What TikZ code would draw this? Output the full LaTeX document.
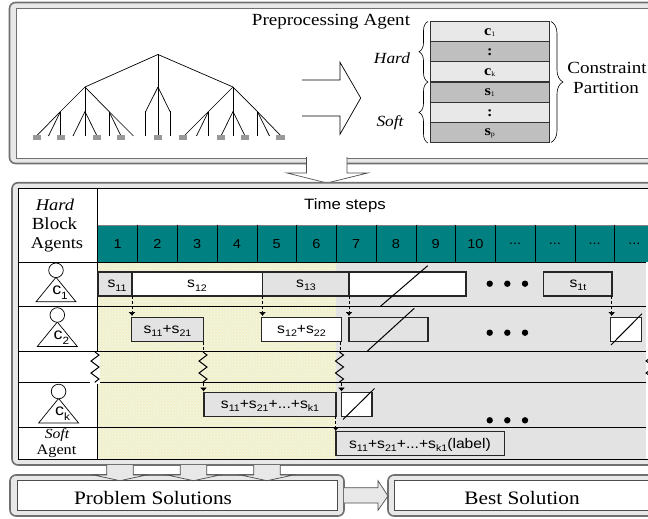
\documentclass[tikz,border=0pt]{standalone}
\usepackage{fontspec}
\setmainfont{Liberation Serif}[FakeStretch=1.12]
\setsansfont{Liberation Sans}[FakeStretch=1.12]
\usetikzlibrary{calc}
\usetikzlibrary{arrows.meta}
\usetikzlibrary{patterns}
\usetikzlibrary{decorations.pathreplacing}
\usetikzlibrary{decorations.pathmorphing}
\definecolor{frameGray}{HTML}{E8E8E8}
\definecolor{frameLine}{HTML}{707070}
\definecolor{bandGray}{HTML}{E3E3E3}
\definecolor{darkGray}{HTML}{BFBFBF}
\definecolor{leafGray}{HTML}{999999}
\definecolor{stepTeal}{HTML}{008080}
\definecolor{hatchBase}{HTML}{EFEFD6}
\definecolor{hatchDot}{HTML}{FFFFC4}
\tikzset{
    frameOuter/.style = {draw=frameLine, line width=1.6pt, fill=frameGray, rounded corners=6pt},
    frameInner/.style = {draw=black!70, line width=0.9pt, fill=white},
    slotBox/.style = {draw=black!85, line width=1.1pt, fill=bandGray},
    slotFree/.style = {draw=black!85, line width=1.1pt, fill=white},
    stackCell/.style = {draw=black!80, line width=0.8pt},
    slotText/.style = {font=\sffamily\fontsize{14}{14}\selectfont, inner sep=0pt},
    rowLine/.style = {draw=black, line width=0.8pt},
    slash/.style = {draw=black, line width=1pt},
    waitArrow/.style = {draw=black, densely dashed, line width=0.7pt, -{Latex[length=4pt,width=7pt]}},
    zigzag/.style = {draw=black, line width=1pt, decorate, decoration={zigzag, segment length=12pt, amplitude=4pt}},
    flowArrow/.style = {draw=black!70, line width=0.7pt, fill=frameGray},
    treeLine/.style = {draw=black, line width=0.7pt},
}
\newcommand{\moreSteps}{...}
\newcommand{\slotSub}[1]{\raisebox{-3.5pt}{\fontsize{9.5}{9.5}\selectfont #1}}
\newcommand{\iconSub}[1]{\raisebox{-5pt}{\fontsize{10.5}{10.5}\selectfont #1}}
\newcommand{\cellSub}[1]{\raisebox{-1pt}{\mdseries\fontsize{7}{7}\selectfont #1}}
\newcommand{\agentIcon}[3]{
    \coordinate (#3_c) at #1;
    \draw[black, line width=0.7pt, fill=white] ($(#3_c) + (0, 7)$) -- ($(#3_c) + (-20, 31.5)$) -- ($(#3_c) + (20, 31.5)$) -- cycle;
    \draw[black, line width=0.7pt, fill=white] (#3_c) circle (7.3);
    \node[slotText, font=\sffamily\fontsize{16}{16}\selectfont] (#3_t) at ($(#3_c) + (4, 22.5)$) {c\iconSub{#2}};
}
\newcommand{\threeDots}[1]{
    \foreach \dotX in {489.7, 507.3, 525} {
        \fill[black] (\dotX, #1) circle (3.2);
    }
}
\newcommand{\twig}[2]{
    \coordinate (tw_t) at (#1, 111.5);
    \foreach \leafX in {#2} {
        \coordinate (tw_l) at (\leafX, 136);
        \draw[treeLine] (tw_t) -- (tw_l);
    }
}
\newcommand{\branchTree}[2]{
    \coordinate (br_t) at (#1, 87);
    \draw[treeLine] (top) -- (br_t);
    \foreach \twigX in {#2} {
        \coordinate (br_e) at (\twigX, 111.5);
        \draw[treeLine] (br_t) -- (br_e);
    }
}
\begin{document}
\begin{tikzpicture}[x=1pt, y=-1pt]
    \clip (0, 0) rectangle (648, 519);
    \fill[white] (0, 0) rectangle (648, 519);

    \draw[frameOuter] (9.5, 2.5) rectangle (680, 163.5);
    \draw[frameInner, draw=frameLine] (16, 8) rectangle (680, 158);

    \coordinate (top) at (158, 54.5);
    \branchTree{85}{60.5, 85, 109}
    \branchTree{158}{145.7, 158, 170}
    \branchTree{233}{208.5, 233, 257.3}
    \twig{60.5}{36.5, 48.5, 60.5}
    \twig{85}{73, 85, 97}
    \twig{109}{109, 121, 133.5}
    \twig{208.5}{184, 196.5, 208.5}
    \twig{233}{221, 233, 245}
    \twig{257.3}{257.3, 269.5, 281}
    \draw[treeLine] (145.7, 111) -- (145.7, 136);
    \draw[treeLine] (158, 111) -- (158, 136);
    \draw[treeLine] (170, 111) -- (170, 136);
    \foreach \leafX in {36.7, 61, 97, 121, 157.7, 183, 220.7, 245, 280.3} {
        \fill[leafGray] (\leafX - 4.2, 135) rectangle (\leafX + 4.2, 140);
    }

    \draw[black, line width=0.7pt] (302, 80) -- (340, 80) -- (340, 62.3) -- (360.7, 98) -- (340, 134.3) -- (340, 116) -- (302, 116);

    \node[font=\fontsize{17}{17}\selectfont, inner sep=0pt] (prepTitle) at (331, 22) {Preprocessing Agent};
    \foreach \cellY/\cellFill/\cellText [count=\cellI] in {21.5/frameGray/c\cellSub{1}, 41.7/darkGray/:, 61.7/frameGray/c\cellSub{k}, 82/darkGray/s\cellSub{1}, 102/frameGray/:, 122.3/darkGray/s\cellSub{p}} {
        \draw[stackCell, fill=\cellFill] (430.3, \cellY) rectangle ++(118.7, 20.1);
        \node[font=\bfseries\fontsize{14.5}{14.5}\selectfont, inner sep=0pt] (cell\cellI) at (489.7, \cellY + 11) {\cellText};
    }
    \coordinate (hardTop) at (428, 21.5);
    \coordinate (hardBot) at (428, 82);
    \coordinate (softBot) at (428, 143);
    \coordinate (allTop) at (551, 21.5);
    \coordinate (allBot) at (551, 142.5);
    \draw[black, line width=0.6pt, decorate, decoration={brace, amplitude=9pt, mirror}] (hardTop) -- (hardBot);
    \draw[black, line width=0.6pt, decorate, decoration={brace, amplitude=9pt, mirror}] (hardBot) -- (softBot);
    \draw[black, line width=0.6pt, decorate, decoration={brace, amplitude=12pt}] (allTop) -- (allBot);
    \node[font=\itshape\fontsize{15.5}{15.5}\selectfont, inner sep=0pt] (hardLabel) at (392, 58) {Hard};
    \node[font=\itshape\fontsize{15.5}{15.5}\selectfont, inner sep=0pt] (softLabel) at (390, 123) {Soft};
    \node[font=\fontsize{17}{17}\selectfont, inner sep=0pt] (partA) at (607, 68) {Constraint};
    \node[font=\fontsize{17}{17}\selectfont, inner sep=0pt] (partB) at (606, 88) {Partition};

    \draw[flowArrow, fill=white] (306.5, 157) -- (306.5, 173) -- (287, 173) -- (327, 183) -- (367.7, 173) -- (347, 173) -- (347, 157);

    \draw[frameOuter] (12, 182.7) rectangle (680, 465);
    \draw[frameInner, draw=black] (18, 188) rectangle (680, 459);
    \fill[bandGray] (98, 262.3) rectangle (646, 458.5);
    \fill[hatchBase] (98, 262.3) rectangle (336, 458.5);
    \fill[pattern=crosshatch dots, pattern color=hatchDot] (98, 262.3) rectangle (336, 458.5);
    \fill[stepTeal] (98, 225) rectangle (648, 262.3);
    \draw[black!50, line width=0.9pt] (98, 225) -- (648, 225);
    \foreach \stepN [count=\stepI from 0] in {1, 2, 3, 4, 5, 6, 7, 8, 9, 10, \moreSteps, \moreSteps, \moreSteps, \moreSteps} {
        \node[font=\sffamily\fontsize{13}{13}\selectfont, inner sep=0pt] (step\stepI) at (117.7 + 39.74 * \stepI, 243.8) {\stepN};
        \ifnum\stepI>0
            \draw[black, line width=0.7pt] (98 + 39.74 * \stepI, 225) -- (98 + 39.74 * \stepI, 262.3);
        \fi
    }
    \node[font=\sffamily\fontsize{15}{15}\selectfont, inner sep=0pt] (stepTitle) at (345, 206) {Time steps};

    \fill[white] (18.5, 352) rectangle (97, 382);
    \foreach \rowY in {262.3, 306.7, 351.7, 382.7, 427} {
        \draw[rowLine] (18, \rowY) -- (646, \rowY);
    }
    \draw[black, line width=0.9pt] (97.7, 188) -- (97.7, 459);

    \node[font=\itshape\fontsize{16.5}{16.5}\selectfont, inner sep=0pt] (hardHead) at (55, 204.5) {Hard};
    \node[font=\fontsize{17}{17}\selectfont, inner sep=0pt] (blockHead) at (54.5, 224) {Block};
    \node[font=\fontsize{16.5}{16.5}\selectfont, inner sep=0pt] (agentsHead) at (57, 244.5) {Agents};
    \node[font=\itshape\fontsize{14}{14}\selectfont, inner sep=0pt] (softHead) at (57, 435) {Soft};
    \node[font=\fontsize{14.5}{14.5}\selectfont, inner sep=0pt] (agentHead) at (56.5, 451.5) {Agent};
    \agentIcon{(56, 270.3)}{1}{agentA}
    \agentIcon{(57.3, 315)}{2}{agentB}
    \agentIcon{(58.6, 391.5)}{k}{agentK}

    \coordinate (zigLa) at (95, 352);
    \coordinate (zigLb) at (95, 382.7);
    \coordinate (zigMa) at (203, 352);
    \coordinate (zigMb) at (203, 382.7);
    \coordinate (zigNa) at (339.5, 352);
    \coordinate (zigNb) at (339.5, 382.7);
    \coordinate (zigRa) at (650, 352);
    \coordinate (zigRb) at (650, 382.7);
    \fill[white] (90, 352.3) rectangle (100, 384);
    \draw[zigzag] (zigLa) -- (zigLb);
    \draw[zigzag] (zigMa) -- (zigMb);
    \draw[zigzag] (zigNa) -- (zigNb);
    \draw[zigzag] (zigRa) -- (zigRb);

    \draw[slotBox] (98, 272) rectangle (132, 296);
    \draw[slotFree] (132, 272) rectangle (262.5, 296);
    \draw[slotBox] (262.5, 272) rectangle (349, 296);
    \draw[slotFree] (349, 272) rectangle (466, 296);
    \draw[slotBox] (543.3, 272) rectangle (612, 296);
    \draw[slotBox] (131.5, 317.3) rectangle (203.5, 341.5);
    \draw[slotFree] (261.5, 317.3) rectangle (341.7, 341.5);
    \draw[slotBox] (349, 317.3) rectangle (428, 341.5);
    \draw[slotFree] (610.7, 317.3) rectangle (641.7, 341.5);
    \draw[slotBox] (204, 392.3) rectangle (336, 416.3);
    \draw[slotFree] (341.7, 392.3) rectangle (372, 416.3);
    \draw[slotBox] (336, 431.7) rectangle (504.7, 455.7);

    \node[slotText] (s11) at (117, 285.5) {s\slotSub{11}};
    \node[slotText] (s12) at (197, 285.5) {s\slotSub{12}};
    \node[slotText] (s13) at (306, 285.5) {s\slotSub{13}};
    \node[slotText] (s1t) at (578, 285.5) {s\slotSub{1t}};
    \node[slotText] (s21) at (167.5, 331) {s\slotSub{11}+s\slotSub{21}};
    \node[slotText] (s22) at (301.5, 331) {s\slotSub{12}+s\slotSub{22}};
    \node[slotText] (sk1) at (270, 406) {s\slotSub{11}+s\slotSub{21}+...+s\slotSub{k1}};
    \node[slotText] (slab) at (420, 445) {s\slotSub{11}+s\slotSub{21}+...+s\slotSub{k1}(label)};

    \draw[slash] (380, 306.7) -- (427.7, 265.7);
    \draw[slash] (366.7, 351.7) -- (414.3, 308.3);
    \draw[slash] (611, 345) -- (642, 313.7);
    \draw[slash] (343, 419.5) -- (374.5, 388.5);

    \threeDots{283.7}
    \threeDots{332.7}
    \threeDots{420.3}

    \draw[waitArrow] (132, 296) -- (132, 316);
    \draw[waitArrow] (262.5, 296) -- (262.5, 316);
    \draw[waitArrow] (349, 296) -- (349, 316);
    \draw[waitArrow] (611.7, 296) -- (611.7, 316);
    \draw[black, densely dashed, line width=0.7pt] (203.5, 341.5) -- (203.5, 352);
    \draw[black, densely dashed, line width=0.7pt] (340, 341.5) -- (340, 352);
    \draw[waitArrow] (203.5, 382.7) -- (203.5, 391.5);
    \draw[waitArrow] (341.5, 382.7) -- (341.5, 391.5);
    \draw[waitArrow] (335.7, 416.3) -- (335.7, 431);

    \draw[frameOuter] (10, 475) rectangle (344, 516);
    \draw[frameInner] (17, 480.7) rectangle (337, 510.3);
    \draw[frameOuter] (388, 475) rectangle (680, 516);
    \draw[frameInner] (394, 480.7) rectangle (680, 510.3);
    \foreach \tipX in {120, 193.5, 267} {
        \draw[flowArrow] (\tipX - 13.2, 465) -- (\tipX - 13.2, 475) -- (\tipX - 26.5, 475) -- (\tipX, 480.7) -- (\tipX + 26.5, 475) -- (\tipX + 13.2, 475) -- (\tipX + 13.2, 465);
    }
    \node[font=\fontsize{19}{19}\selectfont, inner sep=0pt] (problem) at (153, 497.5) {Problem Solutions};
    \node[font=\fontsize{19}{19}\selectfont, inner sep=0pt] (best) at (522, 498) {Best Solution};
    \draw[flowArrow] (344, 487.7) -- (378, 487.7) -- (378, 480.7) -- (388, 496) -- (378, 510.3) -- (378, 503) -- (344, 503);
\end{tikzpicture}
\end{document}
